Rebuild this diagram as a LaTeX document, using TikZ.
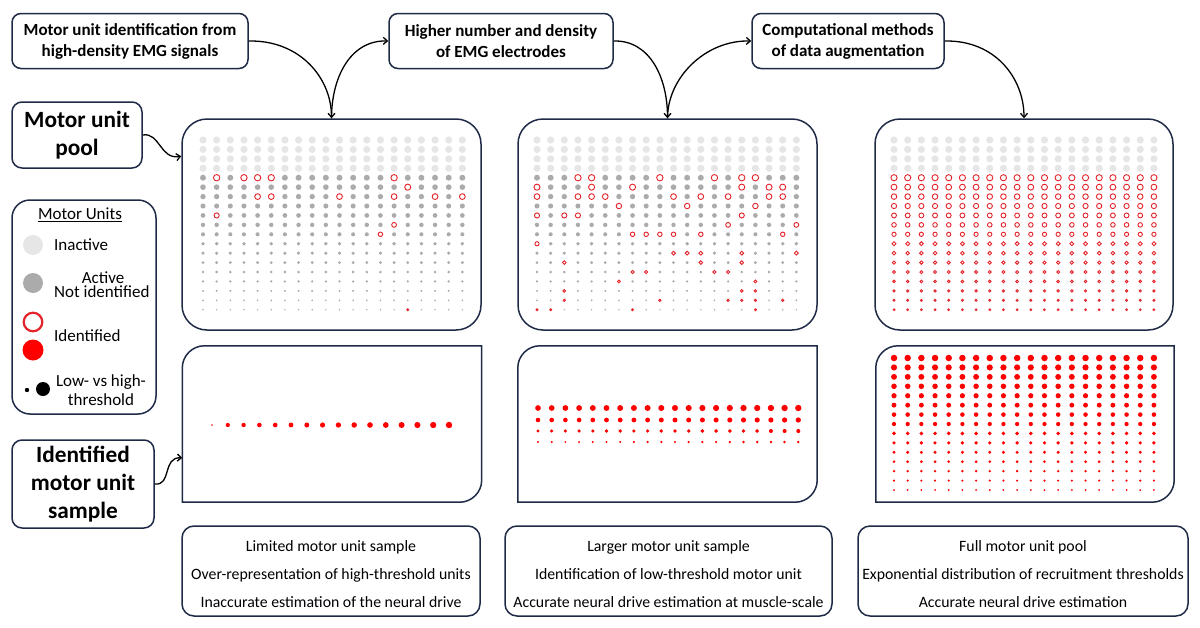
\documentclass[tikz,border=0pt]{standalone}
\usepackage{fontspec}
\setmainfont{Carlito}
\usetikzlibrary{arrows.meta,calc}
\definecolor{navy}{HTML}{1F2B46}
\definecolor{inact}{HTML}{E6E6E6}
\definecolor{actg}{HTML}{ABABAB}
\definecolor{mured}{HTML}{FF0000}
\definecolor{ringred}{HTML}{E3242B}
\newcommand{\sampleoutline}[1]{%
  \draw[navy, line width=1.5pt] (#1.south west) -- ($(#1.north west)+(0,22)$)
    .. controls ($(#1.north west)+(0,10)$) and ($(#1.north west)+(10,0)$) .. ($(#1.north west)+(22,0)$)
    -- (#1.north east) -- ($(#1.south east)+(0,-22)$)
    .. controls ($(#1.south east)+(0,-10)$) and ($(#1.south east)+(-10,0)$) .. ($(#1.south east)+(-22,0)$)
    -- cycle;}
\newcommand{\poolgrid}[2]{%
  \foreach \c in {1,...,20}{%
    \foreach \rw in {1,...,4}{\fill[inact] ({#1+(\c-1)*13.65},{140+(\rw-1)*9.43}) circle[radius=3.6pt];}
    \foreach \rw in {5,...,19}{\pgfmathsetmacro\rr{3.0-(\rw-5)*0.157}
      \fill[actg] ({#1+(\c-1)*13.65},{140+(\rw-1)*9.43}) circle[radius=\rr pt];}
  }
  \foreach \rw/\c in {#2}{\pgfmathsetmacro\rr{3.0-(\rw-5)*0.157+0.2}
    \filldraw[fill=white, draw=ringred, line width=0.9pt] ({#1+(\c-1)*13.65},{140+(\rw-1)*9.43}) circle[radius=\rr pt];}
}
\begin{document}
\begin{tikzpicture}[x=1pt,y=-1pt,
  box/.style={draw=navy, line width=1.5pt, rounded corners=#1, inner sep=0pt},
  box/.default=9pt,
  topbox/.style={box, align=center, font=\fontsize{17}{21}\selectfont\bfseries, minimum height=55pt},
  bigbox/.style={box=10pt, align=center, font=\fontsize{23.3}{28}\selectfont\bfseries},
  gridbox/.style={box=25pt, minimum width=299pt, minimum height=211pt},
  samplebox/.style={inner sep=0pt, minimum width=299pt, minimum height=156pt},
  notebox/.style={box=12pt, minimum height=90pt},
  notetxt/.style={inner sep=0pt, align=center, font=\fontsize{15.8}{28}\selectfont},
  legtxt/.style={inner sep=0pt, font=\fontsize{17}{19}\selectfont, align=center},
  conn/.style={line width=1.3pt, -{Straight Barb[length=4pt,width=7pt]}},
]
\useasboundingbox (0,0) rectangle (1200,627);

% top boxes
\node[topbox, minimum width=236pt] (A) at (130,41) {Motor unit identification from\\high-density EMG signals};
\node[topbox, minimum width=224pt] (B) at (501,41) {Higher number and density\\of EMG electrodes};
\node[topbox, minimum width=192pt] (C) at (848,41) {Computational methods\\of data augmentation};

% left boxes
\node[bigbox, minimum width=130pt, minimum height=66pt] (pool) at (77,135) {Motor unit\\pool};
\node[box=18pt, minimum width=144pt, minimum height=214pt] (leg) at (84,307) {};
\node[bigbox, minimum width=142pt, minimum height=88pt] (idb) at (83,484) {Identified\\motor unit\\sample};

% legend contents
\node[legtxt] (lt0) at (80,215) {\underline{Motor Units}};
\fill[inact] (33,245) circle[radius=10pt];
\node[legtxt, anchor=west] (lt1) at (54,245) {Inactive};
\fill[actg] (33,283) circle[radius=10pt];
\node[legtxt] (lt2) at (103,278) {Active};
\node[legtxt, anchor=west] (lt3) at (54,292) {Not identified};
\draw[ringred, line width=2.2pt, fill=white] (33,322) circle[radius=9.3pt];
\fill[mured] (33,350) circle[radius=10.5pt];
\node[legtxt, anchor=west] (lt4) at (54,336) {Identified};
\fill[black] (27,390) circle[radius=2.2pt];
\fill[black] (43,389) circle[radius=7pt];
\node[legtxt] (lt5) at (101,390) {Low- vs high-\\threshold};

% grid boxes
\node[gridbox] (g1) at (331.5,224.5) {};
\node[gridbox] (g2) at (667.5,224.5) {};
\node[gridbox, minimum width=298pt] (g3) at (1024,224.5) {};

\poolgrid{203}{5/2,5/4,5/5,5/6,5/15,6/16,7/5,7/6,7/11,7/15,7/18,7/20,9/2,10/15,11/14,19/16}
\poolgrid{537}{5/4,5/5,5/10,5/14,5/16,5/17,6/1,6/5,6/8,6/16,6/18,6/19,7/1,7/4,7/5,7/6,7/11,7/13,7/15,7/18,7/19,8/7,8/12,8/17,9/1,9/3,9/4,9/16,10/15,10/20,11/8,11/9,11/10,11/11,11/13,11/19,12/1,13/11,13/12,13/13,13/16,13/20,14/3,14/13,14/16,15/8,15/9,15/14,15/15,16/7,16/17,17/3,17/16,17/17,18/3,18/10,18/15,18/16,18/17,18/19,19/1,19/2,19/8,19/17}

% grid 3: all active identified
\foreach \c in {1,...,20}{%
  \foreach \rw in {1,...,4}{\fill[inact] ({894+(\c-1)*13.68},{140+(\rw-1)*9.43}) circle[radius=3.6pt];}
  \foreach \rw in {5,...,19}{\pgfmathsetmacro\rr{3.1-(\rw-5)*0.16}
    \draw[ringred, line width=0.9pt] ({894+(\c-1)*13.68},{140+(\rw-1)*9.43}) circle[radius=\rr pt];}
}

% sample boxes
\node[samplebox] (s1) at (332,424) {};
\node[samplebox] (s2) at (667.5,424) {};
\node[samplebox, minimum width=298pt] (s3) at (1025,424) {};
\sampleoutline{s1}
\sampleoutline{s2}
\sampleoutline{s3}

\foreach \i in {1,...,16}{\pgfmathsetmacro\rr{\i==1 ? 0.9 : 2.1+(\i-2)*0.08}
  \fill[mured] ({212+(\i-1)*15.8},425) circle[radius=\rr pt];}
\foreach \k/\yy/\rb in {1/408/2.85,2/420/2.3,3/431/1.7,4/442/1.05}{%
  \foreach \c in {1,...,20}{\pgfmathsetmacro\rr{\rb+(\c-1)*0.018}
    \fill[mured] ({538+(\c-1)*13.7},\yy) circle[radius=\rr pt];}}
\foreach \k in {1,...,15}{%
  \foreach \c in {1,...,20}{\pgfmathsetmacro\rr{3.25-(\k-1)*0.16}
    \fill[mured] ({894+(\c-1)*13.68},{358+(\k-1)*9.43}) circle[radius=\rr pt];}}

% bottom note boxes
\node[notebox, minimum width=298pt] (b1) at (331,571) {};
\node[notebox, minimum width=327pt] (b2) at (668.5,571) {};
\node[notebox, minimum width=330pt] (b3) at (1023,571) {};
\node[notetxt] (b1t) at (331,574) {Limited motor unit sample\\Over-representation of high-threshold units\\Inaccurate estimation of the neural drive};
\node[notetxt] (b2t) at (668.5,574) {Larger motor unit sample\\Identification of low-threshold motor unit\\Accurate neural drive estimation at muscle-scale};
\node[notetxt] (b3t) at (1023,574) {Full motor unit pool\\Exponential distribution of recruitment thresholds\\Accurate neural drive estimation};

% connectors
\coordinate (g1in) at ($(g1.north west)+(0,38)$);
\coordinate (s1in) at ($(s1.north west)+(0,112)$);
\draw[conn] (A.east) .. controls (300,40) and (331.5,78) .. (g1.north);
\draw[conn] (g1.north) .. controls (331.5,78) and (350,40) .. (B.west);
\draw[conn] (B.east) .. controls (650,40) and (667.5,78) .. (g2.north);
\draw[conn] (g2.north) .. controls (667.5,78) and (705,40) .. (C.west);
\draw[conn] (C.east) .. controls (995,40) and (1024,78) .. (g3.north);
\draw[conn] (pool.east) .. controls (160,132) and (160,160) .. (g1in);
\draw[conn] (idb.east) .. controls (172,486) and (162,457) .. (s1in);
\end{tikzpicture}
\end{document}
